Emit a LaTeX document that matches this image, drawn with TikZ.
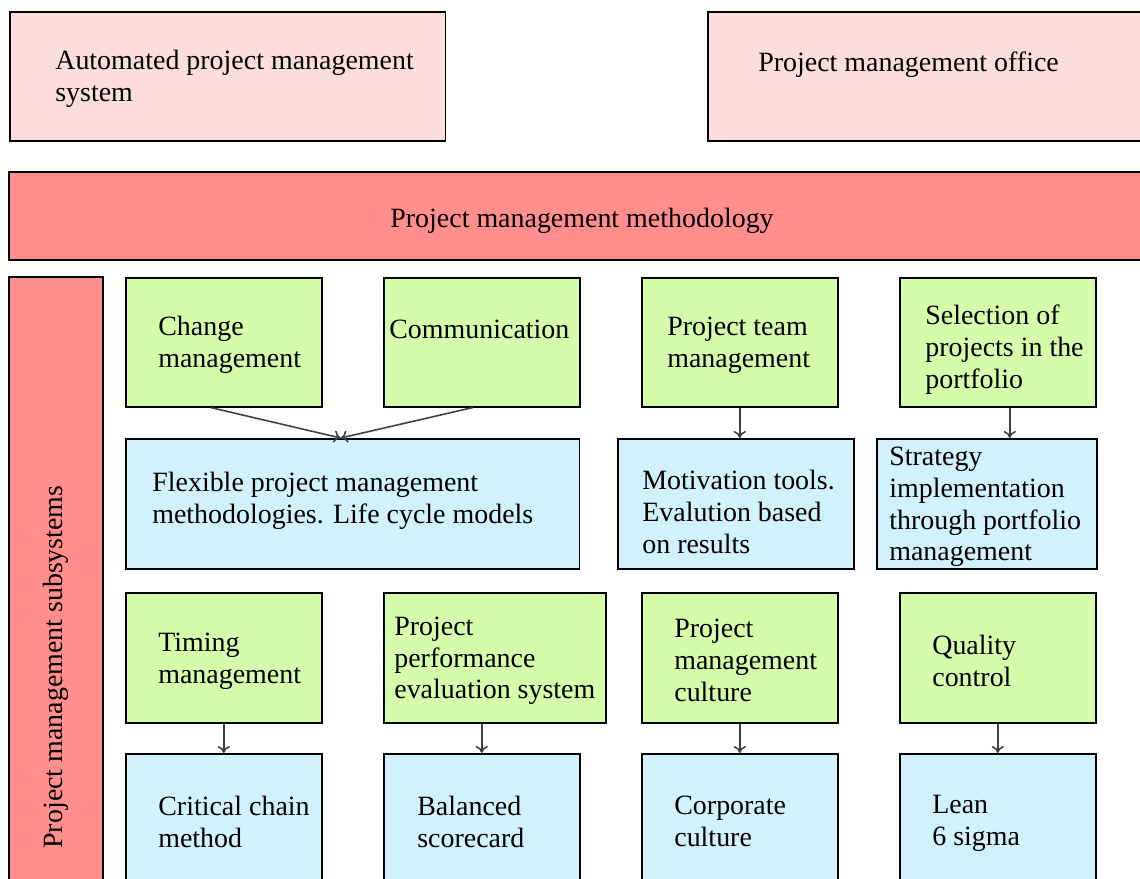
\documentclass[tikz,border=0pt]{standalone}
\usepackage{fontspec}
\setmainfont{Liberation Serif}
\usepackage{tikz}
\usetikzlibrary{positioning,arrows,arrows.meta}
\definecolor{pmpink}{RGB}{252,221,222}
\definecolor{pmred}{RGB}{255,142,140}
\definecolor{pmgreen}{RGB}{212,252,170}
\definecolor{pmblue}{RGB}{209,242,252}
\tikzset{
    base/.style={
    rectangle,draw=black,line width=0.9pt,anchor=north west,inner sep=0pt
    },
    pinkbox/.style={
    base,fill=pmpink,minimum height=2.58cm
    },
    redbar/.style={
    rectangle,draw=black,line width=0.9pt,fill=pmred,inner sep=0pt,font=\fontsize{15.9}{18.2}\selectfont
    },
    greenbox/.style={base,fill=pmgreen,minimum width=3.92cm,minimum height=2.58cm},
    bluebox/.style={base,fill=pmblue,minimum width=3.92cm,minimum height=2.6cm},
  txt/.style={align=left,inner sep=0pt,yshift=-0.06cm,font=\fontsize{15.9}{18.2}\selectfont},
  line/.style={draw=black!75,line width=0.9pt,-{To[length=4pt,width=7pt]}},
}

\begin{document}
\begin{tikzpicture}[x=0.02cm,y=-0.02cm]
\useasboundingbox (0,0) rectangle (1140,879);
\clip (0,0) rectangle (1140,879);

  % top level
  \node[pinkbox,minimum width=8.72cm] (apms) at (9,11) {};
  \node[txt,right=0.92cm of apms.west] (apms-t) {Automated project management\\system};
  \node[pinkbox,minimum width=9.2cm] (pmo) at (707,11) {};
  \node[txt,right=1.02cm of pmo.west,yshift=0.29cm] (pmo-t) {Project management office};
  \node[redbar,minimum width=22.92cm,minimum height=1.76cm] (meth) at (582,216) {\raisebox{-2.6pt}[\height][\depth]{Project management methodology}};
  \node[redbar,rotate=90,minimum width=15.6cm,minimum height=1.88cm] (subs) at (56,667) {Project management subsystems};

  % subsystems, first pair of rows
  \node[greenbox] (chg) at (125,277) {};
  \node[txt,right=0.66cm of chg.west] (chg-t) {Change\\management};
  \node[greenbox] (comm) at (383,277) {};
  \node[txt,right=0.12cm of comm.west,yshift=0.32cm] (comm-t) {Communication};
  \node[greenbox] (team) at (641,277) {};
  \node[txt,right=0.52cm of team.west] (team-t) {Project team\\management};
  \node[greenbox] (sel) at (899,277) {};
  \node[txt,right=0.52cm of sel.west,yshift=-0.08cm] (sel-t) {Selection of\\projects in the\\portfolio};

  \node[bluebox,minimum width=9.08cm] (flex) at (125,438) {};
  \node[txt,right=0.54cm of flex.west,yshift=0.12cm] (flex-t) {Flexible project management\\methodologies. Life cycle models};
  \node[bluebox,minimum width=4.72cm] (motiv) at (617,438) {};
  \node[txt,right=0.5cm of motiv.west,yshift=-0.1cm] (motiv-t) {Motivation tools.\\Evalution based\\on results};
  \node[bluebox,minimum width=4.4cm] (strat) at (876,438) {};
  \node[txt,right=0.26cm of strat.west] (strat-t) {Strategy\\implementation\\through portfolio\\management};

  % subsystems, second pair of rows
  \node[greenbox,minimum height=2.6cm] (timing) at (125,592) {};
  \node[txt,right=0.66cm of timing.west] (timing-t) {Timing\\management};
  \node[greenbox,minimum width=4.44cm,minimum height=2.6cm] (perf) at (383,592) {};
  \node[txt,right=0.22cm of perf.west] (perf-t) {Project\\performance\\evaluation system};
  \node[greenbox,minimum height=2.6cm] (cult) at (641,592) {};
  \node[txt,right=0.66cm of cult.west] (cult-t) {Project\\management\\culture};
  \node[greenbox,minimum height=2.6cm] (qual) at (899,592) {};
  \node[txt,right=0.66cm of qual.west] (qual-t) {Quality\\control};

  \node[bluebox] (ccm) at (125,753) {};
  \node[txt,right=0.66cm of ccm.west] (ccm-t) {Critical chain\\method};
  \node[bluebox] (bsc) at (383,753) {};
  \node[txt,right=0.68cm of bsc.west] (bsc-t) {Balanced\\scorecard};
  \node[bluebox] (corp) at (641,753) {};
  \node[txt,right=0.66cm of corp.west] (corp-t) {Corporate\\culture};
  \node[bluebox] (lean) at (899,753) {};
  \node[txt,right=0.66cm of lean.west,yshift=-0.04cm] (lean-t) {Lean\\6 sigma};

  \path[line] ([xshift=-0.26cm]chg.south) -- ([xshift=-0.24cm]flex.north);
  \path[line] ([xshift=-0.18cm]comm.south) -- ([xshift=-0.24cm]flex.north);
  \path[line] (team.south) -- (team.south |- motiv.north);
  \path[line] ([xshift=0.24cm]sel.south) -- ([xshift=0.24cm]sel.south |- strat.north);
  \path[line] (timing.south) -- (ccm.north);
  \path[line] (bsc.north |- perf.south) -- (bsc.north);
  \path[line] (cult.south) -- (corp.north);
  \path[line] (qual.south) -- (lean.north);
\end{tikzpicture}
\end{document}
